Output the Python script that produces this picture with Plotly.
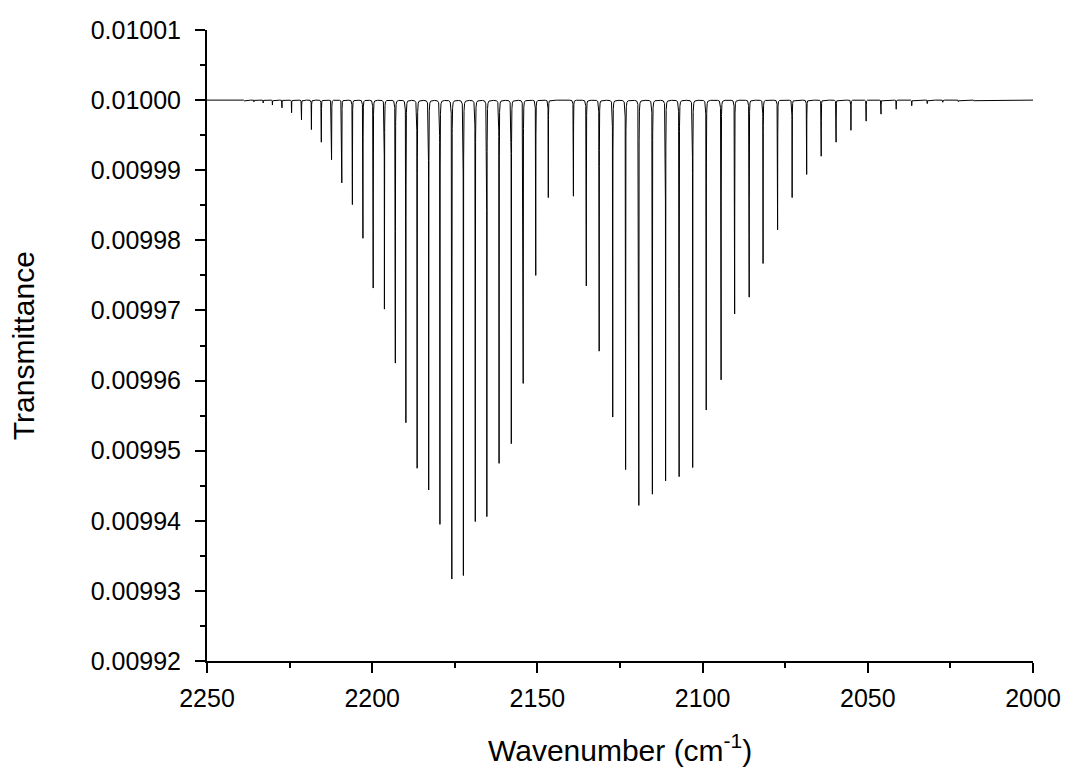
import numpy as np
import plotly.graph_objects as go

# Line centres (cm^-1) and peak depths below the 0.01 baseline, R branch then P branch
r_centres = [2246.7, 2244.0, 2241.3, 2238.6, 2235.8, 2233.0, 2230.2, 2227.3, 2224.4,
             2221.4, 2218.4, 2215.4, 2212.3, 2209.2, 2206.0, 2202.8, 2199.7, 2196.3,
             2193.0, 2189.8, 2186.4, 2182.9, 2179.5, 2175.9, 2172.4, 2168.8, 2165.3,
             2161.6, 2157.9, 2154.3, 2150.5, 2146.7]
r_depths = [0.03e-6, 0.06e-6, 0.10e-6, 0.15e-6, 0.25e-6, 0.40e-6, 0.70e-6, 1.1e-6, 1.8e-6,
            2.8e-6, 4.2e-6, 6.0e-6, 8.5e-6, 11.8e-6, 14.9e-6, 19.7e-6, 26.8e-6, 29.8e-6,
            37.5e-6, 46.0e-6, 52.5e-6, 55.6e-6, 60.5e-6, 68.3e-6, 67.8e-6, 60.1e-6, 59.4e-6,
            51.8e-6, 49.0e-6, 40.4e-6, 25.0e-6, 13.9e-6]

p_centres = [2139.1, 2135.2, 2131.3, 2127.2, 2123.3, 2119.3, 2115.2, 2111.2, 2107.1,
             2103.0, 2098.9, 2094.4, 2090.3, 2085.9, 2081.7, 2077.3, 2072.9, 2068.5,
             2064.1, 2059.6, 2055.1, 2050.5, 2046.0, 2041.4, 2036.7, 2032.0, 2027.3,
             2022.6, 2017.8, 2013.0, 2008.2, 2003.4]
p_depths = [13.7e-6, 26.5e-6, 35.8e-6, 45.2e-6, 52.7e-6, 57.8e-6, 56.2e-6, 54.3e-6, 53.7e-6,
            52.4e-6, 44.2e-6, 39.9e-6, 30.5e-6, 28.1e-6, 23.3e-6, 18.5e-6, 13.9e-6, 10.6e-6,
            8.0e-6, 6.0e-6, 4.3e-6, 3.0e-6, 2.0e-6, 1.3e-6, 0.8e-6, 0.5e-6, 0.3e-6,
            0.2e-6, 0.12e-6, 0.07e-6, 0.04e-6, 0.02e-6]

baseline = 0.01
half_width = 0.03  # Lorentzian HWHM, cm^-1

x_ticks = [2250, 2200, 2150, 2100, 2050, 2000]
y_ticks = [0.00992, 0.00993, 0.00994, 0.00995, 0.00996, 0.00997, 0.00998, 0.00999,
           0.01000, 0.01001]

centres = np.array(r_centres + p_centres)
depths = np.array(r_depths + p_depths)

# Sample grid: uniform steps plus every line centre so each minimum is hit exactly
nu = np.union1d(np.arange(2000.0, 2250.0 + 1e-9, 0.01), centres)
profile = depths[None, :] * half_width**2 / (half_width**2 + (nu[:, None] - centres[None, :])**2)
transmittance = baseline - profile.sum(axis=1)

fig = go.Figure(go.Scatter(x=nu, y=transmittance, mode="lines",
                           line=dict(color="black", width=1), hoverinfo="skip"))

font = "Liberation Sans, Arial, sans-serif"
axis_common = dict(showline=True, linecolor="black", linewidth=2, mirror=False,
                   showgrid=False, zeroline=False, ticks="outside", ticklen=10,
                   tickwidth=2, tickcolor="black", automargin=False,
                   tickfont=dict(family=font, size=25, color="black"))

fig.update_layout(
    width=1066, height=767,
    margin=dict(l=207, r=33, t=30, b=106),
    paper_bgcolor="white", plot_bgcolor="white",
    showlegend=False,
    xaxis=dict(range=[2250, 2000], tickvals=x_ticks, ticklabelstandoff=4,
               minor=dict(ticks="outside", ticklen=5, tickwidth=2, tickcolor="black", dtick=25),
               **axis_common),
    yaxis=dict(range=[0.00992, 0.01001], tickvals=y_ticks, tickformat=".5f",
               ticklabelstandoff=9,
               minor=dict(ticks="outside", ticklen=5, tickwidth=2, tickcolor="black",
                          dtick=0.000005),
               **axis_common),
    annotations=[
        dict(text="Wavenumber (cm<sup>-1</sup>)", xref="paper", yref="paper",
             x=0.5, y=-0.138, xanchor="center", yanchor="middle", showarrow=False,
             font=dict(family=font, size=30, color="black")),
        dict(text="Transmittance", xref="paper", yref="paper", textangle=-90,
             x=-0.222, y=0.5, xanchor="center", yanchor="middle", showarrow=False,
             font=dict(family=font, size=30, color="black")),
    ],
)

fig.write_html("out.html")
